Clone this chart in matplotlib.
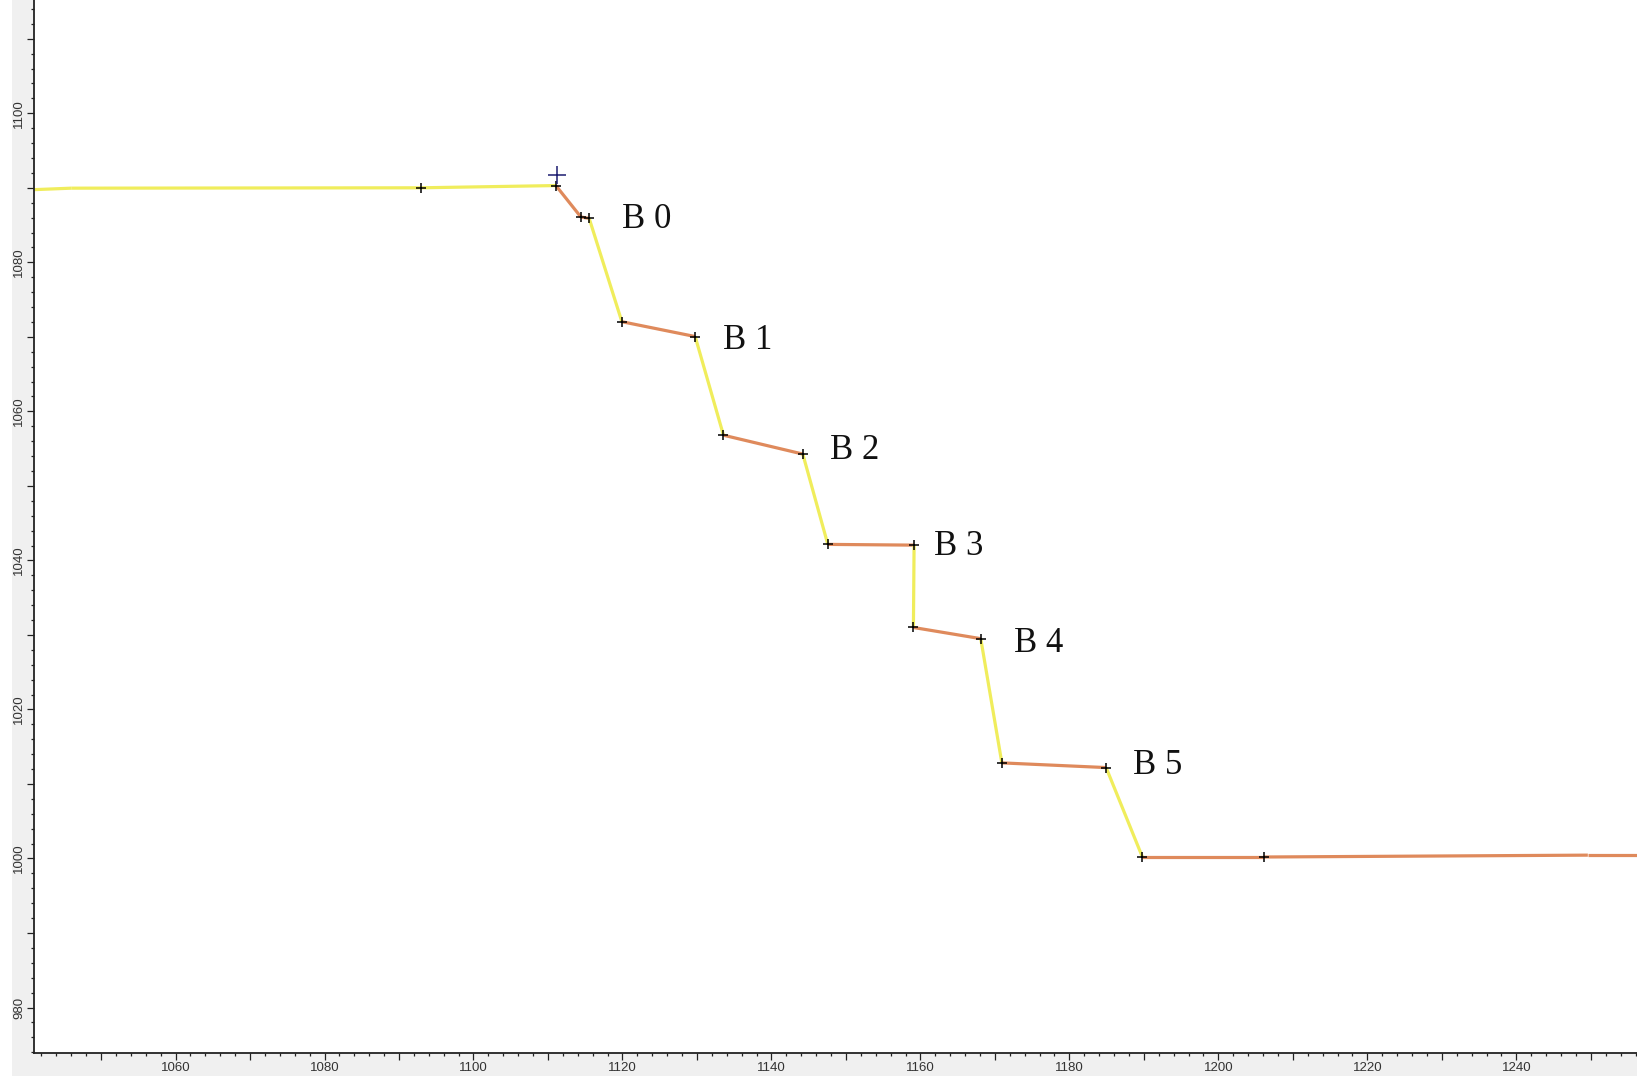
import numpy as np
import matplotlib.pyplot as plt
from matplotlib.patches import Rectangle
from matplotlib.ticker import MultipleLocator, FuncFormatter

# profile vertices (distance, elevation)
path_x = [1041.0, 1046.0, 1093.0, 1111.06, 1114.42, 1115.53, 1119.92, 1129.76, 1133.56, 1144.21,
          1147.57, 1159.15, 1159.06, 1168.1, 1170.93, 1184.93, 1189.8, 1206.1, 1249.6, 1256.3]
path_y = [1089.75, 1089.95, 1090.0, 1090.3, 1086.08, 1085.9, 1072.03, 1070.04, 1056.8, 1054.27,
          1042.15, 1042.05, 1031.0, 1029.5, 1012.83, 1012.2, 1000.2, 1000.2, 1000.45, 1000.45]
# segment type: 0 = slope (yellow), 1 = bench (orange)
seg_type = [0, 0, 0, 1, 1, 0, 1, 0, 1, 0, 1, 0, 1, 0, 1, 0, 1, 1, 1]
marked = list(range(2, 18))

bench_names = ["B 0", "B 1", "B 2", "B 3", "B 4", "B 5"]
bench_lx = [1119.9, 1133.5, 1147.9, 1161.85, 1172.5, 1188.6]
bench_ly = [1084.56, 1068.36, 1053.56, 1040.7, 1027.73, 1011.4]

cursor = (1111.2, 1091.7)

seg_colors = ['#f0ed5c', '#df8a5c']

fig = plt.figure(figsize=(16.37, 10.76), dpi=100, facecolor='#f0f0f0')
fig.patches.append(Rectangle((0, 0), 12 / 1637, 1, transform=fig.transFigure,
                             facecolor='white', edgecolor='none', zorder=-1))
ax = fig.add_axes([34 / 1637, 23 / 1076, 1 - 34 / 1637, 1 - 23 / 1076])
ax.set_facecolor('white')

for i, t in enumerate(seg_type):
    ax.plot(path_x[i:i + 2], path_y[i:i + 2], color=seg_colors[t], lw=2.3,
            solid_capstyle='butt', zorder=2)

ax.plot([path_x[i] for i in marked], [path_y[i] for i in marked], ls='none',
        marker='+', color='black', markersize=6.5, mew=1.1, zorder=3)
ax.plot(*cursor, marker='+', color='#1c1c70', markersize=13, mew=1.1, zorder=4)

for name, lx, ly in zip(bench_names, bench_lx, bench_ly):
    ax.text(lx, ly, name, fontsize=25, family='Liberation Serif', ha='left',
            va='baseline', color='#111111')

ax.set_xlim(1041.0, 1256.2)
ax.set_ylim(973.9, 1115.2)

for s in ['top', 'right']:
    ax.spines[s].set_visible(False)
for s in ['left', 'bottom']:
    ax.spines[s].set_linewidth(1.3)
    ax.spines[s].set_color('#222222')

label20 = FuncFormatter(lambda v, p: '%d' % round(v) if round(v) % 20 == 0 else '')
for axis in [ax.xaxis, ax.yaxis]:
    axis.set_major_locator(MultipleLocator(10))
    axis.set_minor_locator(MultipleLocator(2))
    axis.set_major_formatter(label20)

ax.tick_params(which='major', direction='out', length=5, width=0.9, color='#222222',
               labelsize=9.5, labelcolor='#333333', pad=1.5)
ax.tick_params(which='minor', direction='out', length=2.5, width=0.9, color='#222222')
for lab in ax.get_xticklabels() + ax.get_yticklabels():
    lab.set_family('Liberation Sans')
for lab in ax.get_yticklabels():
    lab.set_rotation(90)
    lab.set_va('center')

fig.savefig('out.png', dpi=100, facecolor=fig.get_facecolor())
